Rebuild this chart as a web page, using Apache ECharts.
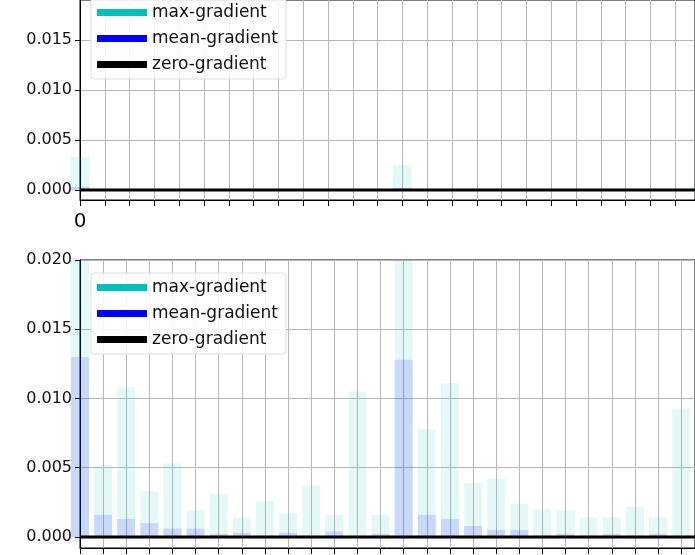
<!DOCTYPE html>
<html><head><meta charset="utf-8">
<script src="https://cdn.jsdelivr.net/npm/echarts@6/dist/echarts.min.js"></script>
<style>html,body{margin:0;padding:0;background:#fff}#c{width:695px;height:555px}</style>
</head><body><div id="c"></div>
<script>
const yTicks = [0, 0.005, 0.010, 0.015, 0.020];
const topMax  = [0.0033,0,0,0,0,0,0,0,0,0,0,0,0,0.0025,0,0,0,0,0,0,0,0,0,0,0,0.0004,0,0,0,0];
const topMean = [0.0003,0,0,0,0,0,0,0,0,0,0,0,0,0.0002,0,0,0,0,0,0,0,0,0,0,0,0.0001,0,0,0,0];
const botMax  = [0.0205,0.0052,0.0108,0.0033,0.0053,0.0019,0.0031,0.0014,0.0026,0.0017,0.0037,0.0016,0.0105,0.0016,0.0205,0.0078,0.0111,0.0039,0.0042,0.0024,0.0020,0.0019,0.0014,0.0014,0.0022,0.0014,0.0093,0.0010,0,0];
const botMean = [0.0130,0.0016,0.0013,0.0010,0.0006,0.0006,0.0002,0.0003,0.0001,0.0003,0.0001,0.0004,0.0001,0.0002,0.0128,0.0016,0.0013,0.0008,0.0005,0.0005,0.0001,0.0002,0.0001,0.0002,0.0001,0.0002,0.0001,0.0001,0,0];
const names = ['max-gradient','mean-gradient','zero-gradient'];
const pairs = a => a.map((v,i)=>[i,v]);
const F = 'DejaVu Sans';
function yAx(gi,min,max){return {gridIndex:gi,type:'value',min:min,max:max,
  axisLine:{show:true,lineStyle:{color:'#000'}},
  axisTick:{show:true,customValues:yTicks,length:5,lineStyle:{color:'#000'}},
  axisLabel:{customValues:yTicks,fontFamily:F,fontSize:16,color:'#111',formatter:v=>v.toFixed(3)},
  splitLine:{show:true,lineStyle:{color:'#b8b8b8'}},
  name:'average gradient',nameLocation:'middle',nameGap:88,nameTextStyle:{fontFamily:F,fontSize:16,color:'#111'}};}
function xAx(gi,max,showLab){return {gridIndex:gi,type:'value',min:0,max:max,interval:1,
  axisLine:{show:true,onZero:false,lineStyle:{color:'#000'}},
  axisTick:{show:true,length:6,lineStyle:{color:'#000'}},
  axisLabel:{show:showLab,fontFamily:F,fontSize:20,color:'#111',margin:12,formatter:v=>v%50===0?String(v):''},
  splitLine:{show:true,lineStyle:{color:'#b8b8b8'}}};}
function ser(gi,mx,mn,bw){return [
  {name:names[0],type:'bar',xAxisIndex:gi,yAxisIndex:gi,data:pairs(mx),barWidth:bw,barGap:'-100%',itemStyle:{color:'rgba(0,191,191,0.1)'}},
  {name:names[1],type:'bar',xAxisIndex:gi,yAxisIndex:gi,data:pairs(mn),barWidth:bw,barGap:'-100%',itemStyle:{color:'rgba(0,0,255,0.13)'}},
  {name:names[2],type:'line',xAxisIndex:gi,yAxisIndex:gi,data:pairs(mx.map(()=>0)),symbol:'none',lineStyle:{color:'#000',width:3},itemStyle:{color:'#000'},z:5}];}
function leg(top){return {left:91,top:top,orient:'vertical',itemGap:9,itemWidth:50,itemHeight:7,icon:'rect',
  backgroundColor:'rgba(255,255,255,0.85)',borderColor:'#ddd',borderWidth:1,borderRadius:3,padding:[6,8,6,6],
  textStyle:{fontFamily:F,fontSize:17,color:'#111'},selectedMode:false,
  data:[{name:names[0],itemStyle:{color:'#00bfbf'}},{name:names[1],itemStyle:{color:'#0000ff'}},{name:names[2],itemStyle:{color:'#000'}}]};}
const chart = echarts.init(document.getElementById('c'));
chart.setOption({
  animation:false,
  grid:[{left:80,top:0,width:615,height:200,show:true,borderColor:'#000',borderWidth:1,outerBoundsMode:'none'},
        {left:80,top:260,width:615,height:288,show:true,borderColor:'#000',borderWidth:1,outerBoundsMode:'none'}],
  xAxis:[xAx(0,24.8,true),xAx(1,26.6,false)],
  yAxis:[yAx(0,-0.001,0.019),yAx(1,-0.0008,0.020)],
  legend:[leg(-2),leg(273)],
  series:[...ser(0,topMax,topMean,19),...ser(1,botMax,botMean,18)]
});
</script></body></html>
